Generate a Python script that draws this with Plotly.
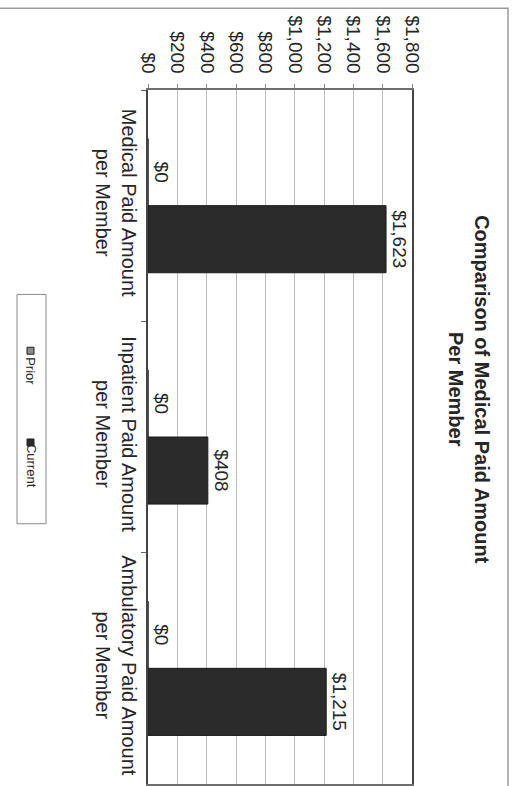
import plotly.graph_objects as go

# ---------------- data ----------------
categories = [
    "Medical Paid Amount<br>per Member",
    "Inpatient Paid Amount<br>per Member",
    "Ambulatory Paid Amount<br>per Member",
]
prior_values = [0, 0, 0]
current_values = [1623, 408, 1215]
series_names = ["Prior", "Current"]
value_ticks = [0, 200, 400, 600, 800, 1000, 1200, 1400, 1600, 1800]
value_tick_labels = ["$" + format(v, ",") for v in value_ticks]
title_text = "<b>Comparison of Medical Paid Amount<br>Per Member</b>"

# ---------------- geometry helpers (pixels -> paper) ----------------
W, H = 514, 786
L, R, T, B = 148, 412, 90, 786


def px(x):
    return (x - L) / (R - L)


def py(y):
    return 1 - (y - T) / (B - T)


FONT = "Liberation Sans, Arial, sans-serif"
TXT = "#262626"
PRIOR_COLOR = "#8c8c8c"
CURRENT_COLOR = "#2b2b2b"

fig = go.Figure()
for name, vals, col in [
    (series_names[0], prior_values, PRIOR_COLOR),
    (series_names[1], current_values, CURRENT_COLOR),
]:
    fig.add_trace(
        go.Bar(
            y=categories,
            x=vals,
            name=name,
            orientation="h",
            marker=dict(color=col, line=dict(color="#1a1a1a", width=1)),
            texttemplate="$%{x:,.0f}",
            textposition="outside",
            textangle=90,
            textfont=dict(size=19, color=TXT, family=FONT),
            constraintext="none",
            cliponaxis=False,
            showlegend=False,
        )
    )

fig.update_layout(
    width=W,
    height=H,
    margin=dict(l=L, r=W - R, t=T, b=H - B, pad=0),
    paper_bgcolor="white",
    plot_bgcolor="white",
    barmode="group",
    bargap=0.42,
    bargroupgap=0,
    font=dict(family=FONT, size=19, color=TXT),
    showlegend=False,
)

fig.update_xaxes(
    side="top",
    range=[0, 1800],
    tickvals=value_ticks,
    ticktext=value_tick_labels,
    tickangle=90,
    tickfont=dict(size=19, color=TXT),
    showgrid=True,
    gridcolor="#bdbdbd",
    gridwidth=1,
    showline=True,
    linecolor="#6e6e6e",
    linewidth=1.5,
    mirror=True,
    ticks="outside",
    ticklen=4,
    tickcolor="#8a8a8a",
    zeroline=False,
    ticklabelstandoff=4,
    fixedrange=True,
)

fig.update_yaxes(
    autorange="reversed",
    tickangle=90,
    tickfont=dict(size=20, color=TXT),
    showgrid=False,
    showline=True,
    linecolor="#444444",
    linewidth=1.5,
    mirror=True,
    ticks="outside",
    tickson="boundaries",
    ticklen=5,
    tickcolor="#666666",
    fixedrange=True,
)

# title (rotated like the rest of the page)
fig.add_annotation(
    text=title_text,
    xref="paper", yref="paper",
    x=px(469), y=py(390),
    xanchor="center", yanchor="middle",
    textangle=90,
    showarrow=False,
    font=dict(size=20, color=TXT, family=FONT),
)

# outer chart border
fig.add_shape(
    type="rect", xref="paper", yref="paper",
    x0=px(-10), x1=px(508), y0=py(8), y1=py(800),
    line=dict(color="#9a9a9a", width=1.5), layer="below",
)

# rotated legend
fig.add_shape(
    type="rect", xref="paper", yref="paper",
    x0=px(17), x1=px(46), y0=py(295), y1=py(525),
    line=dict(color="#8a8a8a", width=1), fillcolor="white",
)
legend_items = [(series_names[0], PRIOR_COLOR, 348, 372), (series_names[1], CURRENT_COLOR, 440, 467)]
for name, col, sw_top, txt_mid in legend_items:
    fig.add_shape(
        type="rect", xref="paper", yref="paper",
        x0=px(27), x1=px(34), y0=py(sw_top), y1=py(sw_top + 7),
        line=dict(color="#222222", width=1), fillcolor=col,
    )
    fig.add_annotation(
        text=name, xref="paper", yref="paper",
        x=px(31), y=py(txt_mid),
        xanchor="center", yanchor="middle",
        textangle=90, showarrow=False,
        font=dict(size=13, color=TXT, family=FONT),
    )

fig.write_html("out.html")
